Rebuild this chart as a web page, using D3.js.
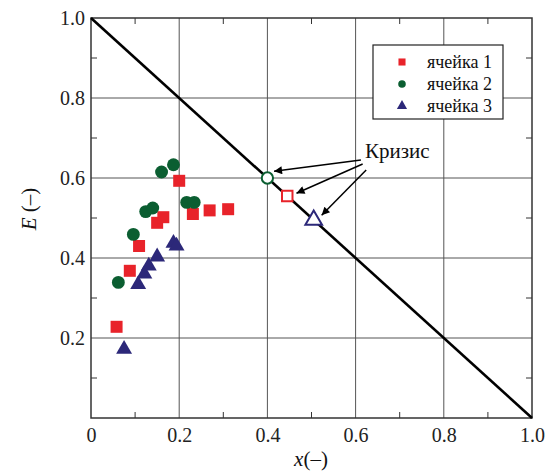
<!DOCTYPE html>
<html>
<head>
<meta charset="utf-8">
<script src="https://cdn.jsdelivr.net/npm/d3@7"></script>
<style>
  body { margin: 0; background: #fff; }
</style>
</head>
<body>
<div id="chart"></div>
<script>
// cell 1 (red squares)
const cell1 = [
  [0.058, 0.228], [0.088, 0.368], [0.109, 0.430], [0.150, 0.488], [0.164, 0.502],
  [0.200, 0.593], [0.231, 0.510], [0.269, 0.519], [0.311, 0.522]
];
// cell 2 (green circles)
const cell2 = [
  [0.062, 0.339], [0.096, 0.459], [0.124, 0.516], [0.140, 0.525], [0.160, 0.615],
  [0.187, 0.633], [0.217, 0.539], [0.234, 0.539]
];
// cell 3 (blue triangles)
const cell3 = [
  [0.075, 0.172], [0.107, 0.334], [0.121, 0.360], [0.131, 0.380], [0.150, 0.403],
  [0.187, 0.437], [0.194, 0.430]
];
// crisis points on the line
const crisis = [[0.400, 0.600], [0.445, 0.555], [0.505, 0.495]];
const crisisArrows = [
  [[0.612, 0.645], [0.415, 0.617]],
  [[0.616, 0.635], [0.466, 0.562]],
  [[0.624, 0.620], [0.523, 0.507]]
];
const lineData = [[0, 1], [1, 0]];
const majorTicks = [0, 0.2, 0.4, 0.6, 0.8, 1.0];
const minorTicks = [0.1, 0.3, 0.5, 0.7, 0.9];
const legendLabels = ['ячейка 1', 'ячейка 2', 'ячейка 3'];

const width = 551, height = 472;
const pL = 91, pR = 532, pT = 18, pB = 418;
const serif = '"Liberation Serif", "Times New Roman", serif';

const x = d3.scaleLinear().domain([0, 1]).range([pL, pR]);
const y = d3.scaleLinear().domain([0, 1]).range([pB, pT]);

const colors = { red: '#e8232a', green: '#0b5e31', blue: '#2c2879' };

const svg = d3.select('#chart').append('svg')
  .attr('width', width)
  .attr('height', height)
  .style('font-family', serif);

const defs = svg.append('defs');
defs.append('marker')
  .attr('id', 'arrow')
  .attr('viewBox', '0 0 10 10')
  .attr('refX', 10).attr('refY', 5)
  .attr('markerWidth', 10).attr('markerHeight', 8)
  .attr('markerUnits', 'userSpaceOnUse')
  .attr('orient', 'auto')
  .append('path')
  .attr('d', 'M0,0 L10,5 L0,10 Z')
  .attr('fill', '#000');

// grid
const grid = svg.append('g').attr('stroke', '#555').attr('stroke-width', 1);
grid.selectAll('.gx').data(majorTicks.slice(1, -1)).join('line').attr('class', 'gx')
  .attr('x1', d => x(d)).attr('x2', d => x(d))
  .attr('y1', pT).attr('y2', pB);
grid.selectAll('.gy').data(majorTicks.slice(1, -1)).join('line').attr('class', 'gy')
  .attr('y1', d => y(d)).attr('y2', d => y(d))
  .attr('x1', pL).attr('x2', pR);

// axes with inward ticks
const tickLen = 6;
svg.append('g').attr('transform', `translate(0,${pB})`)
  .call(d3.axisBottom(x).tickValues(majorTicks).tickSize(0).tickPadding(10)
    .tickFormat(d => d === 0 ? '0' : d3.format('.1f')(d)))
  .call(g => g.select('.domain').remove())
  .call(g => g.attr('font-family', serif))
  .call(g => g.selectAll('text').attr('fill', '#222')
    .style('font-family', serif).style('font-size', '20px'));
svg.append('g').attr('transform', `translate(${pL},0)`)
  .call(d3.axisLeft(y).tickValues(majorTicks.slice(1)).tickSize(0).tickPadding(6)
    .tickFormat(d3.format('.1f')))
  .call(g => g.select('.domain').remove())
  .call(g => g.attr('font-family', serif))
  .call(g => g.selectAll('text').attr('fill', '#222')
    .style('font-family', serif).style('font-size', '20px'));

const ticks = svg.append('g').attr('stroke', '#333').attr('stroke-width', 1);
minorTicks.forEach(t => {
  ticks.append('line').attr('x1', x(t)).attr('x2', x(t)).attr('y1', pB).attr('y2', pB - tickLen);
  ticks.append('line').attr('x1', x(t)).attr('x2', x(t)).attr('y1', pT).attr('y2', pT + tickLen);
  ticks.append('line').attr('y1', y(t)).attr('y2', y(t)).attr('x1', pL).attr('x2', pL + tickLen);
  ticks.append('line').attr('y1', y(t)).attr('y2', y(t)).attr('x1', pR).attr('x2', pR - tickLen);
});

svg.append('rect')
  .attr('x', pL).attr('y', pT)
  .attr('width', pR - pL).attr('height', pB - pT)
  .attr('fill', 'none').attr('stroke', '#333').attr('stroke-width', 1.5);

// diagonal line
svg.append('path')
  .datum(lineData)
  .attr('d', d3.line().x(d => x(d[0])).y(d => y(d[1])))
  .attr('stroke', '#000').attr('stroke-width', 2.6).attr('fill', 'none');

// data markers
const sym = (type, size) => d3.symbol().type(type).size(size)();
svg.append('g').selectAll('path').data(cell1).join('path')
  .attr('transform', d => `translate(${x(d[0])},${y(d[1])})`)
  .attr('d', sym(d3.symbolSquare, 144)).attr('fill', colors.red);
svg.append('g').selectAll('path').data(cell2).join('path')
  .attr('transform', d => `translate(${x(d[0])},${y(d[1])})`)
  .attr('d', sym(d3.symbolCircle, 130)).attr('fill', colors.green);
svg.append('g').selectAll('path').data(cell3).join('path')
  .attr('transform', d => `translate(${x(d[0])},${y(d[1])})`)
  .attr('d', sym(d3.symbolTriangle, 110)).attr('fill', colors.blue);

// open crisis markers
const openTypes = [[d3.symbolCircle, 100, colors.green], [d3.symbolSquare, 110, colors.red], [d3.symbolTriangle, 120, colors.blue]];
svg.append('g').selectAll('path').data(crisis).join('path')
  .attr('transform', d => `translate(${x(d[0])},${y(d[1])})`)
  .attr('d', (d, i) => sym(openTypes[i][0], openTypes[i][1]))
  .attr('fill', '#fff')
  .attr('stroke', (d, i) => openTypes[i][2])
  .attr('stroke-width', 2);

// arrows and label
svg.append('g').selectAll('line').data(crisisArrows).join('line')
  .attr('x1', d => x(d[0][0])).attr('y1', d => y(d[0][1]))
  .attr('x2', d => x(d[1][0])).attr('y2', d => y(d[1][1]))
  .attr('stroke', '#000').attr('stroke-width', 1.5)
  .attr('marker-end', 'url(#arrow)');
svg.append('text').attr('x', 365).attr('y', 158)
  .style('font-family', serif).style('font-size', '21px')
  .attr('fill', '#111').text('Кризис');

// legend
const lg = svg.append('g');
lg.append('rect').attr('x', 373).attr('y', 45).attr('width', 130).attr('height', 74)
  .attr('fill', '#fff').attr('stroke', '#222').attr('stroke-width', 1.2);
const legSyms = [[d3.symbolSquare, 50, colors.red], [d3.symbolCircle, 45, colors.green], [d3.symbolTriangle, 45, colors.blue]];
legendLabels.forEach((lab, i) => {
  const cy = 62 + i * 22;
  lg.append('path').attr('transform', `translate(402,${cy})`)
    .attr('d', sym(legSyms[i][0], legSyms[i][1])).attr('fill', legSyms[i][2]);
  lg.append('text').attr('x', 427).attr('y', cy + 6)
    .style('font-family', serif).style('font-size', '18px')
    .attr('fill', '#111').text(lab);
});

// axis titles
const xt = svg.append('text').attr('x', 311).attr('y', 466)
  .attr('text-anchor', 'middle').attr('fill', '#111')
  .style('font-family', serif).style('font-size', '21px');
xt.append('tspan').style('font-style', 'italic').text('x');
xt.append('tspan').text('(–)');
const yt = svg.append('text').attr('transform', 'translate(36,209) rotate(-90)')
  .attr('text-anchor', 'middle').attr('fill', '#111')
  .style('font-family', serif).style('font-size', '21px');
yt.append('tspan').style('font-style', 'italic').text('E');
yt.append('tspan').text(' (–)');
</script>
</body>
</html>
